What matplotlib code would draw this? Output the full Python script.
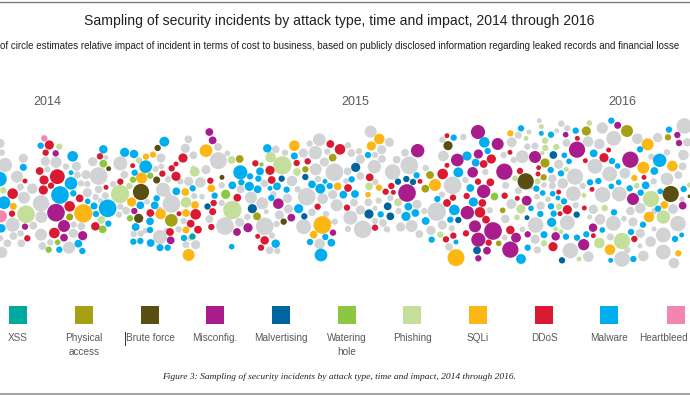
import numpy as np
import matplotlib
matplotlib.use("Agg")
import matplotlib.pyplot as plt

plt.rcParams["font.family"] = ["Liberation Sans", "DejaVu Sans"]

# incidents are (x, y, impact radius), one list per type and year block
other_2014 = [(0,130,13),(5,158,9),(15,195,20),(70,175,13),(136,184,13),(168,187,16),(198,200,9),(229,199,13),(142,208,9),(278,185,13),(318,172,7),(361,190,20),(483,174,13),(580,166,11),(556,145,13),(565,118,11),(655,182,24),(654,141,11),(682,160,8),(618,209,13),(580,204,7),(296,228,25),(258,224,13),(232,225,10),(51,230,17),(61,261,10),(97,266,15),(72,293,17),(123,310,23),(124,351,17),(38,374,20),(100,377,11),(123,404,17),(40,408,11),(62,400,9),(22,430,11),(64,430,11),(5,457,16),(0,415,9),(127,438,11),(151,427,9),(207,443,17),(220,400,13),(221,374,9),(244,379,11),(243,250,9),(262,252,9),(262,278,13),(296,268,11),(287,291,9),(316,287,10),(301,301,7),(339,252,9),(373,224,11),(361,320,9),(378,332,11),(357,344,9),(401,402,9),(422,401,9),(441,305,8),(480,411,20),(436,392,8),(489,269,20),(514,312,25),(536,388,9),(551,363,9),(566,244,13),(601,247,15),(541,244,9),(504,238,9),(467,207,9),(484,199,8),(583,288,9),(504,285,9),(479,330,9),(606,290,8),(665,256,9),(665,309,9),(628,357,11),(675,378,25),(587,434,13),(558,434,10),(570,415,7),(500,393,9)]
other_2015 = [(422,95,17),(478,127,13),(268,119,18),(239,131,9),(137,148,11),(165,158,9),(354,136,9),(364,159,11),(387,154,9),(220,159,13),(256,158,19),(292,155,9),(283,186,13),(257,208,17),(313,217,25),(353,214,11),(391,178,13),(435,165,9),(455,149,13),(456,177,11),(433,200,19),(488,216,22),(538,196,25),(525,158,11),(500,179,11),(587,204,9),(640,168,15),(637,119,9),(186,243,15),(264,237,9),(203,268,9),(230,290,25),(278,296,15),(308,284,13),(320,316,17),(172,295,13),(175,327,13),(148,345,13),(63,293,17),(97,310,17),(109,335,7),(130,283,9),(103,250,11),(32,268,11),(52,351,9),(29,367,13),(104,379,25),(140,372,9),(221,380,21),(126,407,9),(119,451,11),(142,453,9),(269,432,15),(246,337,11),(288,342,9),(298,367,7),(314,365,9),(361,353,20),(398,388,25),(354,387,9),(391,330,13),(372,308,11),(415,307,11),(446,302,9),(481,294,9),(435,325,7),(435,363,9),(459,369,11),(471,388,9),(512,381,13),(545,378,17),(568,402,11),(561,313,13),(583,333,9),(620,335,26),(603,391,13),(637,375,13),(665,385,9),(657,441,11),(668,256,25),(636,284,9),(506,333,9),(391,228,11),(348,243,8),(436,246,9)]
other_2016 = [(238,62,7),(207,96,7),(175,106,10),(155,127,14),(10,111,9),(304,71,9),(322,85,9),(290,92,7),(427,84,16),(461,115,21),(418,132,15),(384,125,15),(532,116,15),(319,129,11),(202,140,9),(225,138,10),(187,170,18),(131,165,9),(161,180,9),(296,193,13),(405,199,21),(449,222,21),(495,220,15),(345,230,23),(308,250,15),(277,236,12),(252,255,8),(277,257,10),(593,113,13),(621,157,9),(574,170,9),(673,78,22),(682,127,12),(670,165,15),(668,199,11),(621,237,18),(655,225,11),(581,244,9),(76,216,9),(16,240,9),(137,256,10),(175,272,10),(212,262,7),(231,290,8),(264,298,8),(340,281,21),(368,258,9),(428,284,22),(478,282,21),(400,328,13),(420,358,15),(347,316,9),(322,368,21),(460,370,21),(227,375,22),(136,357,12),(154,312,14),(89,331,9),(242,317,12),(519,366,13),(492,356,8),(541,325,15),(511,333,12),(583,333,9),(639,327,14),(654,371,22),(610,405,21),(572,425,15),(541,400,13),(582,387,7),(226,418,13),(232,450,10),(331,452,22),(385,470,15),(451,411,10),(486,477,22),(550,468,15),(610,456,21),(642,489,15),(502,450,9),(540,438,7),(134,413,8),(187,388,8),(389,351,7),(666,298,8)]

xss_2014 = [(575,408,9)]
physical_2014 = [(209,351,10),(514,361,18)]
physical_2015 = [(29,177,11),(226,208,9),(308,173,11),(81,349,11),(586,266,11),(600,225,11)]
physical_2016 = [(379,93,13),(501,93,17),(624,112,9),(255,189,13),(251,232,9),(128,331,8),(116,430,8)]
brute_2014 = [(473,144,9),(326,206,7),(470,240,10),(423,276,23),(416,355,13),(666,232,7)]
brute_2015 = [(654,137,13),(161,365,9)]
brute_2016 = [(197,244,23),(632,282,23),(688,289,5)]
misconfig_2014 = [(167,160,9),(168,338,25),(403,333,9),(192,378,17),(75,380,9),(248,407,13),(192,413,11),(512,421,11),(628,96,11),(638,121,11)]
misconfig_2015 = [(563,152,19),(682,180,18),(531,279,25),(145,311,15),(184,353,11),(54,383,13),(21,396,11),(309,398,9)]
misconfig_2016 = [(54,96,20),(113,132,17),(55,162,13),(38,217,15),(133,215,23),(71,274,19),(200,302,14),(225,171,17),(317,104,8),(351,149,23),(511,179,23),(473,76,10),(652,105,9),(657,129,9),(519,297,17),(668,317,11),(22,338,19),(45,379,17),(99,393,25),(55,419,20),(168,413,14),(203,403,9),(151,449,23),(81,452,11),(55,475,9),(287,409,12),(371,434,16),(399,383,12)]
malvert_2014 = [(622,318,9)]
malvert_2015 = [(155,236,9),(226,231,9),(377,202,13),(67,326,13),(223,349,9),(417,342,13),(473,319,11),(481,349,11),(504,245,9),(529,237,9),(549,246,9),(685,360,9)]
malvert_2016 = [(280,165,11),(201,353,7),(350,344,9),(51,451,11),(306,481,9)]
watering_2014 = [(310,191,11),(399,239,9),(451,227,9),(677,283,13),(390,355,9),(308,388,11),(173,427,8),(146,449,9)]
watering_2015 = [(94,193,6)]
watering_2016 = [(102,289,11)]
phishing_2014 = [(178,140,9),(417,181,9),(10,271,9),(78,343,25),(360,282,26),(388,258,9),(584,215,14),(558,307,15),(304,360,11)]
phishing_2015 = [(5,180,11),(122,172,15),(157,196,26),(201,216,11),(417,259,11),(504,307,11),(7,330,26),(631,404,9)]
phishing_2016 = [(388,69,8),(244,80,7),(198,115,7),(255,122,9),(256,144,9),(289,141,9),(247,159,6),(165,235,8),(233,244,9),(319,208,7),(372,286,7),(297,320,9),(183,327,13),(171,352,8),(434,324,9),(287,387,7),(303,395,7),(252,430,9),(418,429,15),(486,423,23),(357,477,7),(573,297,23),(610,351,19),(530,257,8),(688,255,7)]
sqli_2014 = [(438,170,9),(459,164,9),(425,234,16),(618,152,18),(634,265,11),(395,306,13),(556,276,11),(40,319,10),(250,340,26),(482,342,15),(585,315,11),(558,339,11),(558,390,10),(566,465,17)]
sqli_2015 = [(193,137,15),(424,138,13),(448,117,15),(323,259,11),(447,263,9),(414,284,8),(277,375,25),(251,404,11),(615,255,17),(678,473,24)]
sqli_2016 = [(151,100,9),(563,133,17),(550,203,17),(637,198,15),(523,234,9),(613,315,11),(567,351,15),(450,449,15),(655,460,9)]
ddos_2014 = [(148,135,13),(137,158,9),(300,169,9),(549,174,13),(528,192,7),(515,205,9),(398,197,7),(119,213,11),(172,230,21),(132,240,13),(153,257,9),(75,243,7),(130,270,13),(38,281,15),(318,262,7),(361,245,9),(487,221,9),(528,229,13),(631,242,9),(239,295,11),(209,319,15),(36,341,9),(641,309,9),(638,335,10),(451,339,11),(537,341,7),(587,343,15),(572,371,11),(594,389,11),(634,381,9),(163,399,15),(286,379,12),(510,396,11),(82,415,9)]
ddos_2015 = [(301,132,11),(330,148,15),(200,189,9),(233,184,9),(76,190,9),(120,211,13),(125,240,11),(354,264,11),(419,232,11),(22,293,11),(263,320,9),(351,323,9),(435,383,9),(104,421,12),(83,409,7),(93,443,9),(467,275,9),(484,258,9),(490,277,7),(570,244,7),(638,222,15),(651,196,7),(651,107,7),(669,293,9),(651,309,11),(670,407,9),(648,418,9)]
ddos_2016 = [(150,157,7),(71,192,11),(94,177,13),(236,203,7),(234,222,7),(180,213,9),(352,115,7),(376,182,7),(432,173,13),(446,150,7),(552,232,7),(54,245,9),(91,247,11),(20,288,9),(134,287,9),(172,295,7),(67,309,11),(296,276,7),(322,329,13),(300,341,7),(373,324,7),(396,268,7),(60,337,15),(78,359,11),(18,400,9),(151,390,12),(86,428,9),(279,440,13),(400,407,7),(523,417,9)]
malware_2014 = [(493,125,14),(310,148,12),(122,137,9),(374,157,13),(402,162,12),(218,169,15),(437,200,18),(70,202,10),(213,218,7),(404,218,9),(213,250,18),(180,285,25),(-2,237,21),(12,308,18),(220,280,9),(529,274,11),(578,265,9),(470,295,9),(263,304,8),(282,318,10),(323,325,25),(421,316,11),(464,316,11),(288,342,9),(644,287,9),(450,364,11),(325,371,9),(407,381,11),(450,390,9),(4,385,12),(235,431,11),(247,453,9),(178,449,9),(400,425,9),(421,423,9),(452,429,11),(480,443,10),(503,443,9),(552,414,9)]
malware_2015 = [(112,145,12),(193,168,10),(31,217,20),(90,214,11),(60,229,9),(85,236,9),(34,247,9),(7,256,11),(58,259,13),(83,268,11),(141,259,11),(120,265,7),(170,269,9),(124,294,9),(246,253,11),(271,266,14),(285,244,7),(299,258,9),(206,326,13),(340,284,11),(375,282,11),(365,238,9),(414,165,9),(452,343,9),(535,320,11),(528,349,13),(556,339,11),(560,226,9),(622,297,9),(587,363,11),(605,419,9),(673,330,15),(661,359,9),(685,217,14),(671,113,9),(678,426,7),(240,426,9),(286,411,9),(304,428,11),(273,465,18),(137,431,12),(5,440,8)]
malware_2016 = [(183,85,9),(73,127,15),(83,153,9),(21,168,13),(47,188,11),(31,264,11),(40,306,13),(244,100,7),(273,104,9),(347,92,9),(454,62,9),(627,89,9),(540,148,9),(401,160,11),(599,181,19),(313,166,8),(327,184,8),(456,183,9),(473,198,8),(272,210,9),(303,220,9),(583,213,11),(390,247,9),(415,243,9),(476,247,8),(454,259,8),(229,266,9),(248,279,8),(278,281,8),(294,294,7),(312,304,9),(273,319,9),(281,341,9),(241,342,9),(213,325,8),(557,256,11),(509,265,9),(542,278,9),(601,274,8),(671,267,9),(594,326,9),(462,337,9),(549,374,9),(275,367,13),(427,390,8),(252,404,10),(318,410,9),(351,413,9),(379,403,9),(513,396,9),(665,405,7),(645,417,9),(203,443,9),(183,477,14),(452,481,7),(520,477,9)]
heartbleed_2014 = [(133,115,9),(3,349,17)]

attack_types = ["XSS", "Physical\naccess", "Brute force", "Misconfig.", "Malvertising", "Watering\nhole", "Phishing", "SQLi", "DDoS", "Malware"]
legend_x = [18, 84, 150, 215, 281, 347, 412, 478, 544, 609]
colors = ["#00A99D", "#A6A014", "#5A4F12", "#A81C8B", "#00659E", "#8DC63F", "#C4DF9B", "#FDB714", "#DA1A32", "#00AEEF"]
heartbleed_color = "#F386B0"
grey = "#D1D3D4"
years = ["2014", "2015", "2016"]
year_x = [47, 355, 622]

fig = plt.figure(figsize=(6.9, 3.95), dpi=100)
ax = fig.add_axes([0, 0, 1, 1])
ax.set_xlim(0, 690)
ax.set_ylim(395, 0)
ax.axis("off")


def draw(year_lists, color):
    # each year block was read on its own 3x crop, 230 px apart
    for block, incidents in year_lists:
        pts = np.array(incidents, dtype=float)
        x = block * 230 + pts[:, 0] / 3
        y = 100 + pts[:, 1] / 3
        ax.scatter(x, y, s=(pts[:, 2] * 1.06 / 3 * 2 * 0.72) ** 2, color=color, linewidths=0)


draw([(0, other_2014), (1, other_2015), (2, other_2016)], grey)
draw([(0, xss_2014)], colors[0])
draw([(0, physical_2014), (1, physical_2015), (2, physical_2016)], colors[1])
draw([(0, brute_2014), (1, brute_2015), (2, brute_2016)], colors[2])
draw([(0, misconfig_2014), (1, misconfig_2015), (2, misconfig_2016)], colors[3])
draw([(0, malvert_2014), (1, malvert_2015), (2, malvert_2016)], colors[4])
draw([(0, watering_2014), (1, watering_2015), (2, watering_2016)], colors[5])
draw([(0, phishing_2014), (1, phishing_2015), (2, phishing_2016)], colors[6])
draw([(0, sqli_2014), (1, sqli_2015), (2, sqli_2016)], colors[7])
draw([(0, ddos_2014), (1, ddos_2015), (2, ddos_2016)], colors[8])
draw([(0, malware_2014), (1, malware_2015), (2, malware_2016)], colors[9])
draw([(0, heartbleed_2014)], heartbleed_color)

# legend
for name, lx, c in zip(attack_types, legend_x, colors):
    ax.scatter(lx, 315, marker="s", s=(18 * 0.72) ** 2, color=c, linewidths=0)
    ax.text(lx, 333, name, ha="center", va="top", fontsize=7.2, color="#58595B", linespacing=1.55)
ax.scatter(676, 315, marker="s", s=(18 * 0.72) ** 2, color=heartbleed_color, linewidths=0)
ax.text(688, 333, "Heartbleed", ha="right", va="top", fontsize=7.2, color="#58595B")
ax.plot([125, 125], [332, 345], color="#333333", lw=0.7)

for yr, yx in zip(years, year_x):
    ax.text(yx, 102, yr, ha="center", va="center", fontsize=9, color="#58595B")

ax.text(339, 21, "Sampling of security incidents by attack type, time and impact, 2014 through 2016",
        ha="center", va="center", fontsize=10.05, color="#231F20")
ax.text(0, 46, "of circle estimates relative impact of incident in terms of cost to business, based on publicly disclosed information regarding leaked records and financial losse",
        ha="left", va="center", fontsize=7.05, color="#231F20")
ax.text(339, 377, "Figure 3: Sampling of security incidents by attack type, time and impact, 2014 through 2016.",
        ha="center", va="center", fontsize=6.8, style="italic", family=["Liberation Serif"], color="#231F20")

ax.plot([0, 690], [2, 2], color="#7F7F7F", lw=1)
ax.plot([0, 690], [393.5, 393.5], color="#A6A6A6", lw=1.5)

fig.savefig("out.png", dpi=100)
